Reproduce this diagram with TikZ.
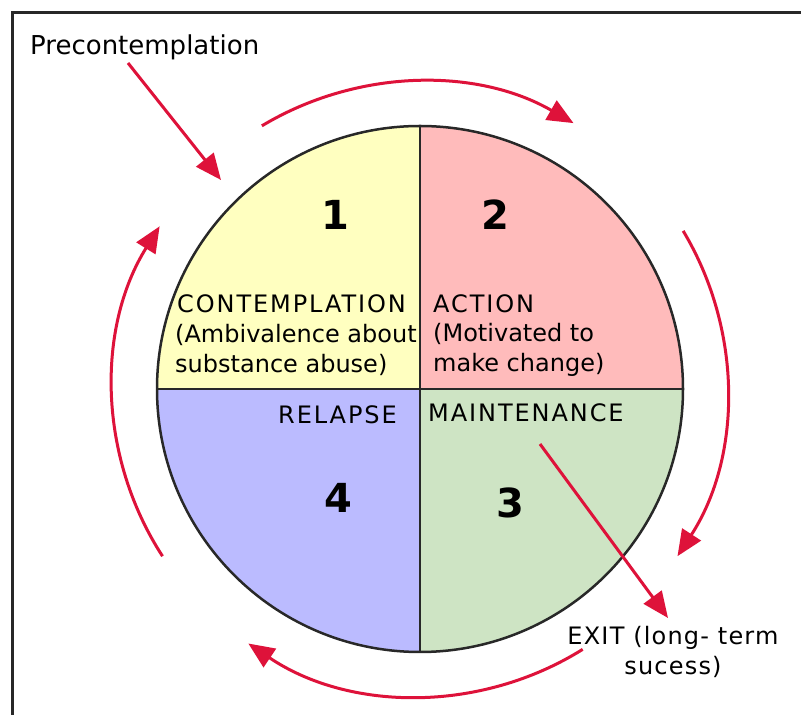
\documentclass[tikz,border=0pt]{standalone}
\usepackage{fontspec}
\setmainfont{DejaVu Sans}
\newfontfamily\capsfont[LetterSpace=8]{DejaVu Sans}
\newfontfamily\exitfont[LetterSpace=5]{DejaVu Sans}
\usetikzlibrary{arrows.meta}
\definecolor{cyel}{RGB}{255,255,192}
\definecolor{cpink}{RGB}{255,187,187}
\definecolor{cblue}{RGB}{187,187,255}
\definecolor{cgreen}{RGB}{206,228,196}
\definecolor{cred}{RGB}{222,18,58}
\definecolor{cline}{RGB}{40,40,40}
\begin{document}
\begin{tikzpicture}[x=1pt,y=1pt,
  redarr/.style={draw=cred, line width=3pt, -{Triangle[length=26pt,width=22pt,fill=cred]}},
  num/.style={font=\fontsize{40}{40}\selectfont\bfseries, inner sep=0pt},
  lbl/.style={font=\fontsize{24}{30}\selectfont, inner sep=0pt, align=left},
  divider/.style={draw=cline, line width=2.5pt}]
\useasboundingbox (0,0) rectangle (801,715);
\clip (0,0) rectangle (801,715);
\fill[white] (0,0) rectangle (801,715);
\draw[line width=3pt, draw=cline] (12,-20) rectangle (840,702);
\coordinate (c) at (420,326);
% quadrants
\fill[cyel] (c) -- ++(180:263) arc[start angle=180,end angle=90,radius=263] -- cycle;
\fill[cpink] (c) -- ++(90:263) arc[start angle=90,end angle=0,radius=263] -- cycle;
\fill[cgreen] (c) -- ++(0:263) arc[start angle=0,end angle=-90,radius=263] -- cycle;
\fill[cblue] (c) -- ++(-90:263) arc[start angle=-90,end angle=-180,radius=263] -- cycle;
\draw[divider] (c) ++(0,263) -- ++(0,-526);
\draw[divider] (c) ++(-263,0) -- ++(526,0);
\draw[divider] (c) circle[radius=263];
% cycle arcs
\draw[redarr] (c) ++(121:307) arc[start angle=121,end angle=60,radius=307];
\draw[redarr] (c) ++(31:307) arc[start angle=31,end angle=-33,radius=307];
\draw[redarr] (c) ++(-58:307) arc[start angle=-58,end angle=-124,radius=307];
\draw[redarr] (c) ++(213:307) arc[start angle=213,end angle=148,radius=307];
% numbers
\node[num] (n1) at (335,500) {1};
\node[num] (n2) at (495,500) {2};
\node[num] (n3) at (510,212) {3};
\node[num] (n4) at (338,217) {4};
% labels
\node[lbl, anchor=west] (cont) at (177,411) {\capsfont CONTEMPLATION};
\node[lbl, anchor=west] (contd) at (175,365) {(Ambivalence about\\substance abuse)};
\node[lbl, anchor=west] (act) at (433,411) {\capsfont ACTION};
\node[lbl, anchor=west] (actd) at (433,365) {(Motivated to\\make change)};
\node[lbl, anchor=east] (rel) at (397,300) {\capsfont RELAPSE};
\node[lbl, anchor=west] (mnt) at (428,302) {\capsfont MAINTENANCE};
\node[lbl, align=center] (exit) at (673,63) {\exitfont EXIT (long- term\\\exitfont sucess)};
\node[font=\fontsize{26}{30}\selectfont, anchor=west, inner sep=0pt] (pre) at (30,668) {Precontemplation};
% arrows
\coordinate (preS) at (128,652);
\coordinate (preE) at (221,535);
\draw[redarr] (preS) -- (preE);
\coordinate (exS) at (540,271);
\coordinate (exE) at (668,97);
\draw[redarr] (exS) -- (exE);
\end{tikzpicture}
\end{document}
